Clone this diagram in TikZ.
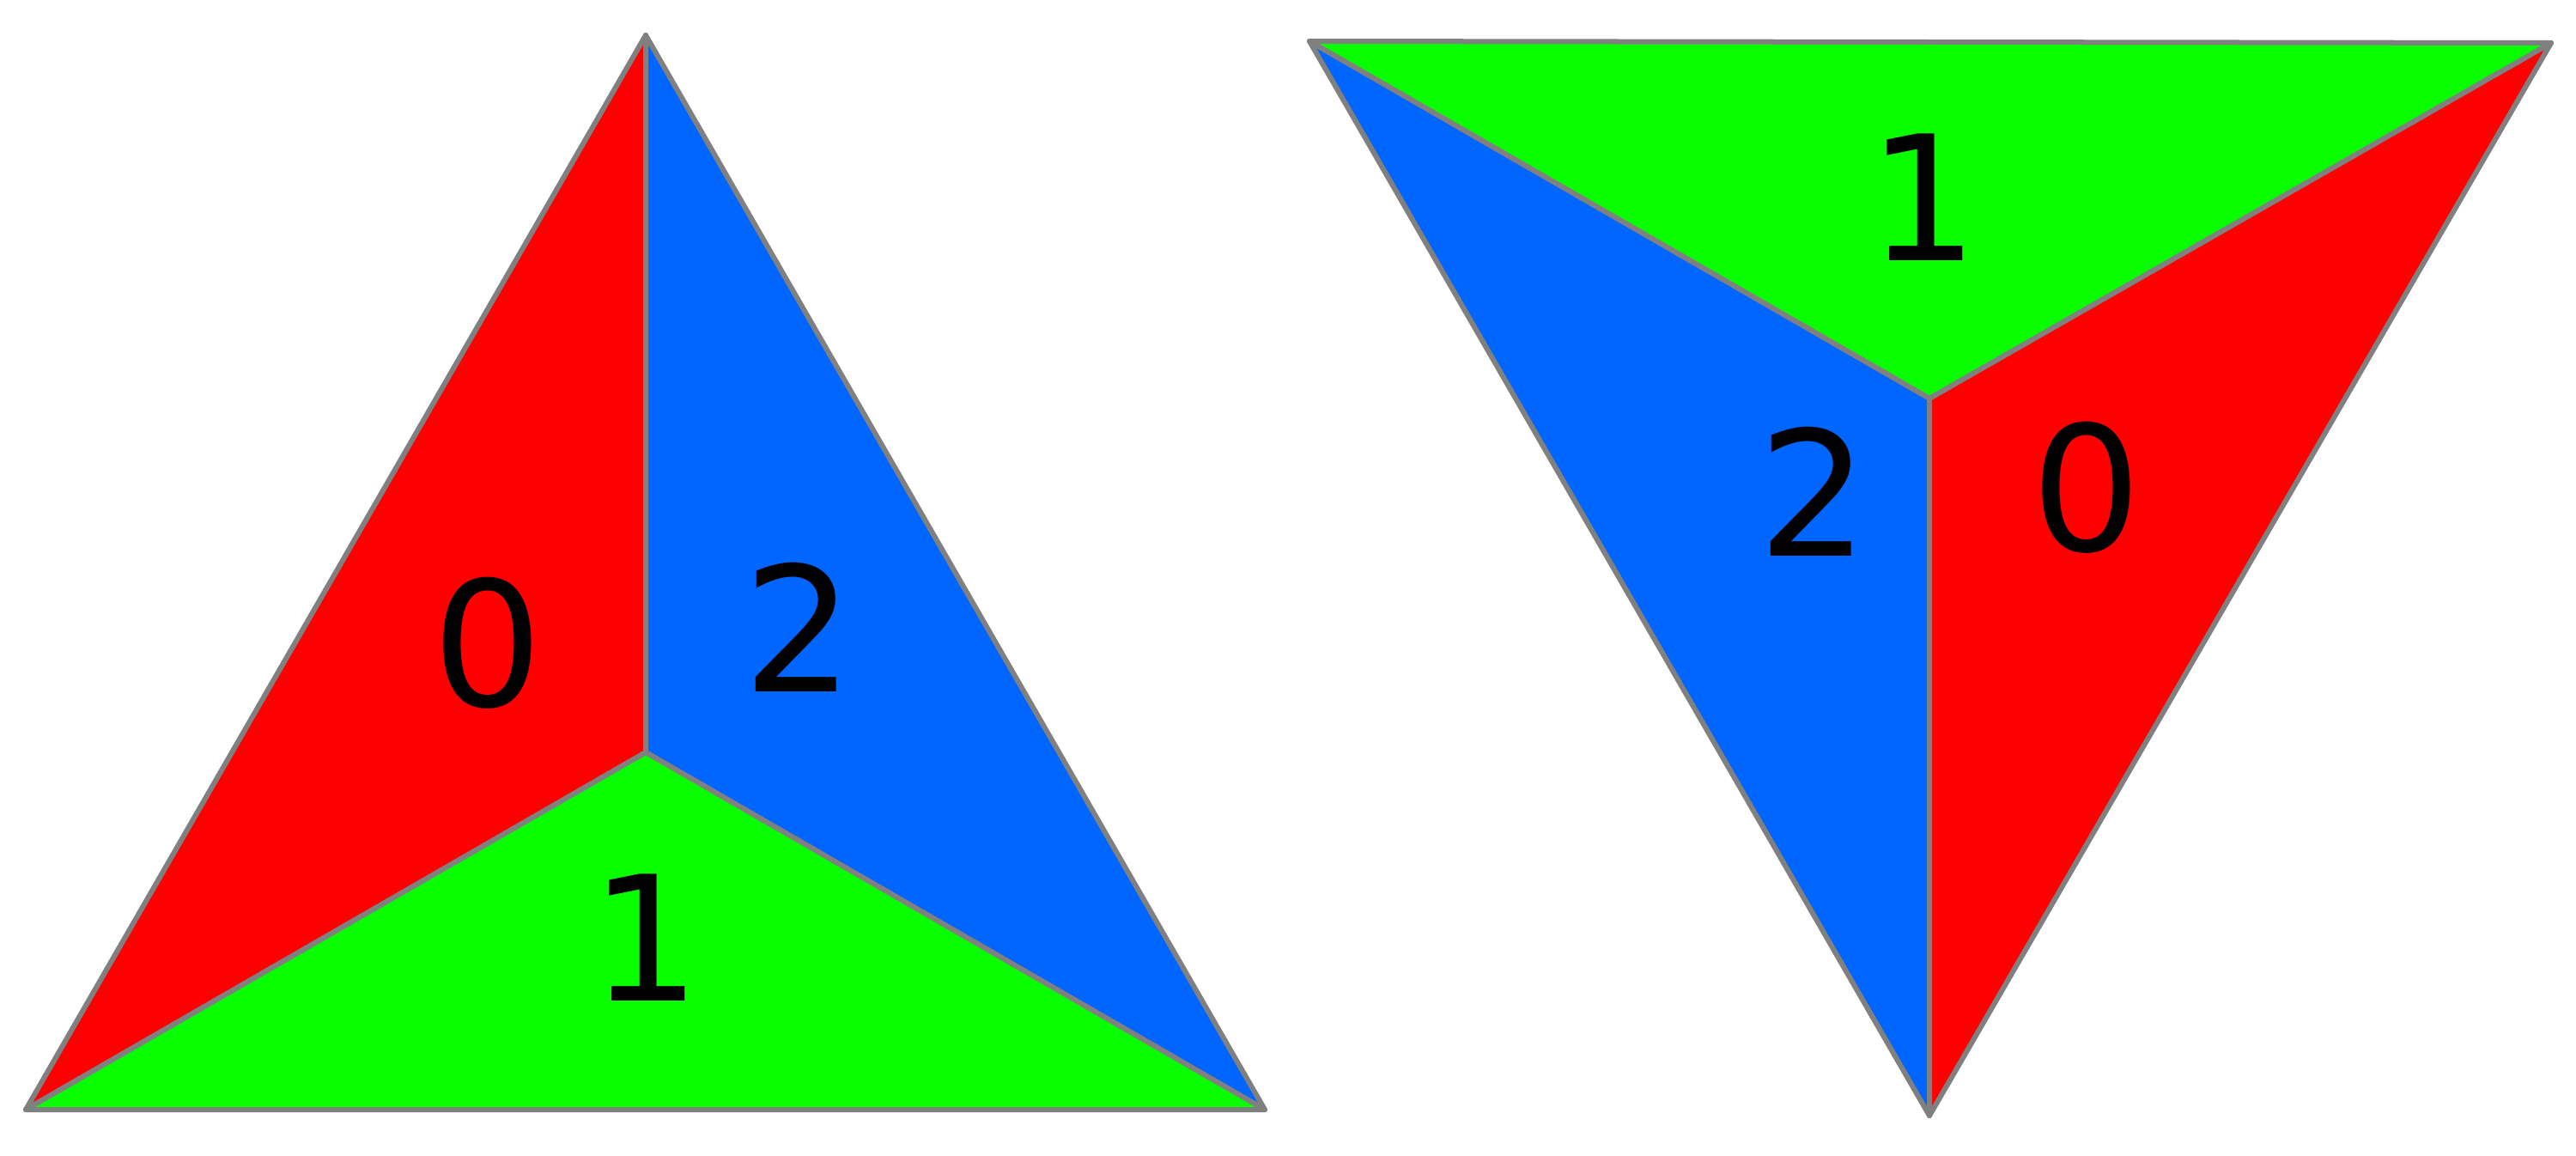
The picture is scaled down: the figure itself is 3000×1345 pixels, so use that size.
\documentclass[tikz,border=0pt]{standalone}
\usepackage{fontspec}
\setmainfont{DejaVu Sans}
\definecolor{facered}{HTML}{FF0000}
\definecolor{facegreen}{HTML}{08FF00}
\definecolor{faceblue}{HTML}{0066FF}
\definecolor{edgegray}{HTML}{808080}
\begin{document}
\begin{tikzpicture}[
  x=0.01cm,y=-0.01cm,
  face/.style={draw=edgegray,line width=0.06cm,line join=round},
  num/.style={font=\fontsize{57.6}{60}\selectfont,inner sep=0pt}
]
\useasboundingbox (0,0) rectangle (3000,1345);
% left triangle, apex up
\coordinate (la) at (752,41);
\coordinate (ll) at (30,1292);
\coordinate (lr) at (1473,1292);
\coordinate (lc) at (752,876);
\filldraw[face,fill=facered] (la) -- (lc) -- (ll) -- cycle;
\filldraw[face,fill=faceblue] (la) -- (lr) -- (lc) -- cycle;
\filldraw[face,fill=facegreen] (lc) -- (lr) -- (ll) -- cycle;
\node[num] (lzero) at (568,749) {0};
\node[num] (ltwo) at (930,730) {2};
\node[num] (lone) at (752,1092) {1};
% right triangle, apex down
\coordinate (rl) at (1525,48);
\coordinate (rr) at (2971,50);
\coordinate (rb) at (2247,1299);
\coordinate (rc) at (2247,464);
\filldraw[face,fill=facegreen] (rl) -- (rr) -- (rc) -- cycle;
\filldraw[face,fill=faceblue] (rl) -- (rc) -- (rb) -- cycle;
\filldraw[face,fill=facered] (rc) -- (rr) -- (rb) -- cycle;
\node[num] (rone) at (2240,230) {1};
\node[num] (rtwo) at (2112,572) {2};
\node[num] (rzero) at (2430,568) {0};
\end{tikzpicture}
\end{document}
